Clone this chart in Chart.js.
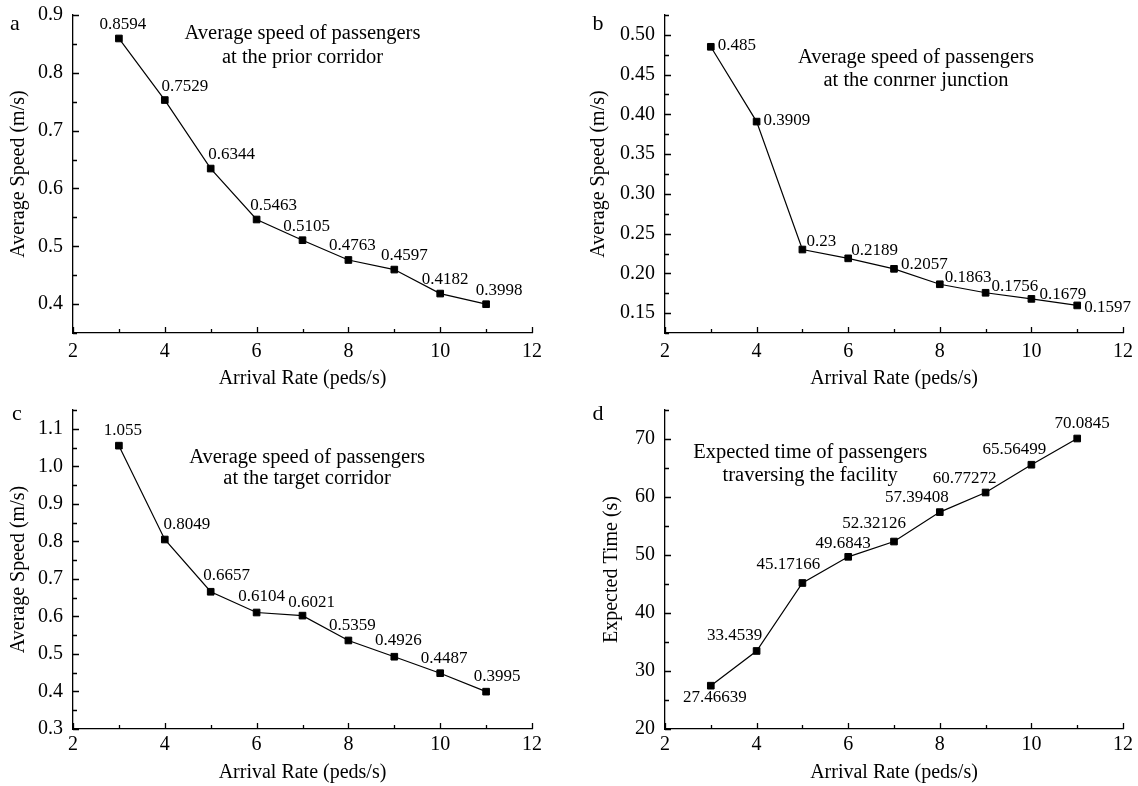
<!DOCTYPE html>
<html>
<head>
<meta charset="utf-8">
<title>Arrival rate vs speed and time</title>
<script src="https://cdn.jsdelivr.net/npm/chart.js@4.4.1/dist/chart.umd.min.js"></script>
<style>
  body { margin: 0; background: #fff; }
  #wrap { position: relative; width: 1138px; height: 786px; background: #fff; }
  .panel { position: absolute; width: 569px; height: 393px; }
</style>
</head>
<body>
<div id="wrap">
  <div class="panel" style="left:0;top:0"><canvas id="chartA" width="569" height="393"></canvas></div>
  <div class="panel" style="left:569px;top:0"><canvas id="chartB" width="569" height="393"></canvas></div>
  <div class="panel" style="left:0;top:393px"><canvas id="chartC" width="569" height="393"></canvas></div>
  <div class="panel" style="left:569px;top:393px"><canvas id="chartD" width="569" height="393"></canvas></div>
</div>
<script>
// Data
var arrivalRate = [3, 4, 5, 6, 7, 8, 9, 10, 11];
var speedPrior = [0.8594, 0.7529, 0.6344, 0.5463, 0.5105, 0.4763, 0.4597, 0.4182, 0.3998];
var speedCorner = [0.485, 0.3909, 0.23, 0.2189, 0.2057, 0.1863, 0.1756, 0.1679, 0.1597];
var speedTarget = [1.055, 0.8049, 0.6657, 0.6104, 0.6021, 0.5359, 0.4926, 0.4487, 0.3995];
var expectedTime = [27.46639, 33.4539, 45.17166, 49.6843, 52.32126, 57.39408, 60.77272, 65.56499, 70.0845];

// Tick labels
var xTicks = [2, 4, 6, 8, 10, 12];
var yTicksPrior = [0.4, 0.5, 0.6, 0.7, 0.8, 0.9];
var yTicksCorner = [0.15, 0.2, 0.25, 0.3, 0.35, 0.4, 0.45, 0.5];
var yTicksTarget = [0.3, 0.4, 0.5, 0.6, 0.7, 0.8, 0.9, 1.0, 1.1];
var yTicksTime = [20, 30, 40, 50, 60, 70];

// Texts
var xTitle = 'Arrival Rate (peds/s)';
var notePrior = ['Average speed of passengers', 'at the prior corridor'];
var noteCorner = ['Average speed of passengers', 'at the conrner junction'];
var noteTarget = ['Average speed of passengers', 'at the target corridor'];
var noteTime = ['Expected time of passengers', 'traversing the facility'];

// Where each value label sits, relative to its point [dx, dy]
var offPrior = [[4, -14], [20, -14], [21, -14], [17, -14], [4, -14], [4, -14], [10, -14], [5, -14], [13, -14]];
var offCorner = [[7, -1], [7, -1], [4, -8], [3, -8], [7, -4], [5, -7], [6, -6], [8, -4], [7, 2]];
var offTarget = [[4, -15], [22, -15], [16, -16], [5, -16], [9, -13], [4, -15], [4, -16], [4, -15], [11, -15]];
var offTime = [[4, 12], [-22, -15], [-14, -18], [-5, -13], [-20, -18], [-23, -15], [-21, -14], [-17, -15], [5, -15]];

var FONT = 'Liberation Serif';

var panels = {
  chartA: { values: speedPrior, off: offPrior, align: 'center', letter: 'a', lx: 15, ly: 30,
    note: notePrior, nx: 7.0, ny: 0.867, gap: 24 },
  chartB: { values: speedCorner, off: offCorner, align: 'left', letter: 'b', lx: 29, ly: 30,
    note: noteCorner, nx: 7.48, ny: 0.471, gap: 23 },
  chartC: { values: speedTarget, off: offTarget, align: 'center', letter: 'c', lx: 17, ly: 27,
    note: noteTarget, nx: 7.1, ny: 1.022, gap: 21 },
  chartD: { values: expectedTime, off: offTime, align: 'center', letter: 'd', lx: 29, ly: 27,
    note: noteTime, nx: 5.17, ny: 67.6, gap: 23 }
};

// Inward major and minor tick marks
function drawTicks(ctx, scale, majors, isX) {
  var step = majors[1] - majors[0];
  var list = [];
  for (var i = 0; i < majors.length; i++) {
    list.push([majors[i], 6]);
    var m = majors[i] + step / 2;
    if (m <= scale.max + 1e-9) list.push([m, 4]);
    if (i === 0 && majors[0] - step / 2 >= scale.min - 1e-9) list.push([majors[0] - step / 2, 4]);
  }
  ctx.beginPath();
  for (var j = 0; j < list.length; j++) {
    var p = Math.round(scale.getPixelForValue(list[j][0])) + 0.5;
    if (isX) {
      ctx.moveTo(p, scale.top);
      ctx.lineTo(p, scale.top - list[j][1]);
    } else {
      ctx.moveTo(scale.right, p);
      ctx.lineTo(scale.right + list[j][1], p);
    }
  }
  ctx.stroke();
}

var extras = {
  id: 'extras',
  afterDraw: function (chart) {
    var cfg = panels[chart.canvas.id];
    var ctx = chart.ctx;
    var xs = chart.scales.x;
    var ys = chart.scales.y;
    ctx.save();
    ctx.strokeStyle = '#000';
    ctx.lineWidth = 1.3;
    drawTicks(ctx, xs, xTicks, true);
    drawTicks(ctx, ys, cfg.yTicks, false);

    // value labels
    var meta = chart.getDatasetMeta(0);
    ctx.fillStyle = '#000';
    ctx.font = '17px "' + FONT + '"';
    ctx.textAlign = cfg.align;
    ctx.textBaseline = 'middle';
    for (var i = 0; i < meta.data.length; i++) {
      var pt = meta.data[i];
      ctx.fillText(String(cfg.values[i]), pt.x + cfg.off[i][0], pt.y + cfg.off[i][1]);
    }

    // note inside the plot
    ctx.font = '20.5px "' + FONT + '"';
    ctx.textAlign = 'center';
    var nx = xs.getPixelForValue(cfg.nx);
    var ny = ys.getPixelForValue(cfg.ny);
    for (var k = 0; k < cfg.note.length; k++) {
      ctx.fillText(cfg.note[k], nx, ny + k * cfg.gap);
    }

    // panel letter
    ctx.font = '22px "' + FONT + '"';
    ctx.textBaseline = 'alphabetic';
    ctx.fillText(cfg.letter, cfg.lx, cfg.ly);
    ctx.restore();
  }
};

function makeChart(id, yTicks, digits, yMin, yMax, yTitle, geo) {
  var cfg = panels[id];
  cfg.yTicks = yTicks;
  var points = arrivalRate.map(function (x, i) {
    return { x: x, y: cfg.values[i] };
  });
  return new Chart(document.getElementById(id), {
    type: 'scatter',
    data: {
      datasets: [{
        data: points,
        showLine: true,
        borderColor: '#000',
        borderWidth: 1.2,
        pointStyle: 'rect',
        pointRadius: 4.7,
        pointBackgroundColor: '#000',
        pointBorderColor: '#000',
        pointBorderWidth: 1,
        clip: false
      }]
    },
    options: {
      responsive: false,
      animation: false,
      events: [],
      layout: { padding: { top: geo.top, right: geo.right, left: 0, bottom: 0 } },
      plugins: { legend: { display: false }, tooltip: { enabled: false } },
      scales: {
        x: {
          type: 'linear',
          min: 2,
          max: 12,
          grid: { display: false, drawTicks: false },
          border: { display: true, color: '#000', width: 1.3 },
          afterBuildTicks: function (s) {
            s.ticks = xTicks.map(function (v) { return { value: v }; });
          },
          afterFit: function (s) {
            s.height = geo.xh;
            s.paddingLeft = 0;
            s.paddingRight = 0;
          },
          ticks: {
            color: '#000',
            padding: geo.xpad,
            maxRotation: 0,
            autoSkip: false,
            font: { family: FONT, size: 20 }
          },
          title: {
            display: true,
            text: xTitle,
            color: '#000',
            font: { family: FONT, size: 20 },
            padding: { top: 0, bottom: geo.xtp }
          }
        },
        y: {
          type: 'linear',
          min: yMin,
          max: yMax,
          grid: { display: false, drawTicks: false },
          border: { display: true, color: '#000', width: 1.3 },
          afterBuildTicks: function (s) {
            s.ticks = yTicks.map(function (v) { return { value: v }; });
          },
          afterFit: function (s) {
            s.width = geo.yw;
            s.paddingTop = 0;
            s.paddingBottom = 0;
          },
          ticks: {
            color: '#000',
            padding: 10,
            autoSkip: false,
            font: { family: FONT, size: 20 },
            callback: function (v) { return Number(v).toFixed(digits); }
          },
          title: {
            display: true,
            text: yTitle,
            color: '#000',
            font: { family: FONT, size: 20 },
            padding: { top: geo.ytp, bottom: 0 }
          }
        }
      }
    },
    plugins: [extras]
  });
}

makeChart('chartA', yTicksPrior, 1, 0.35, 0.9, 'Average Speed (m/s)',
  { top: 15, right: 37, yw: 73, xh: 60, xpad: 7, xtp: 2, ytp: 7 });
makeChart('chartB', yTicksCorner, 2, 0.125, 0.525, 'Average Speed (m/s)',
  { top: 15, right: 15, yw: 96, xh: 60, xpad: 7, xtp: 2, ytp: 18 });
makeChart('chartC', yTicksTarget, 1, 0.3, 1.15, 'Average Speed (m/s)',
  { top: 17, right: 37, yw: 73, xh: 57, xpad: 4, xtp: 1, ytp: 7 });
makeChart('chartD', yTicksTime, 0, 20, 75, 'Expected Time (s)',
  { top: 17, right: 15, yw: 96, xh: 57, xpad: 4, xtp: 1, ytp: 31 });
</script>
</body>
</html>
